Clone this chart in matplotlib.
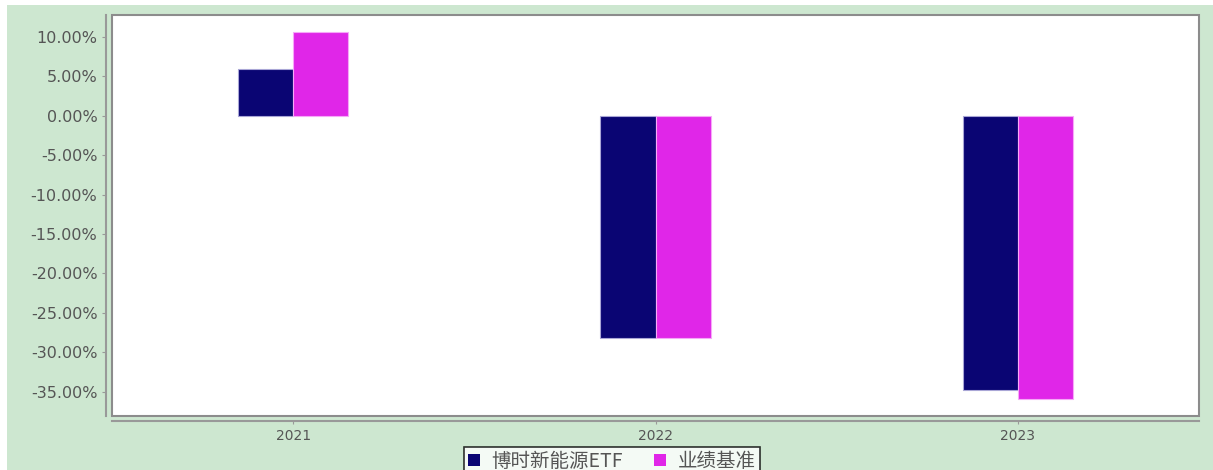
import matplotlib.pyplot as plt
import matplotlib.patches as mpatches
import numpy as np

plt.rcParams['font.family'] = ['DejaVu Sans', 'Noto Sans CJK SC']

# 数据
years = ['2021', '2022', '2023']
etf = [6.0, -28.2, -34.8]
benchmark = [10.6, -28.2, -35.9]
labels = ['博时新能源ETF', '业绩基准']
yticks = [10, 5, 0, -5, -10, -15, -20, -25, -30, -35]

W, H = 1213, 470
fig = plt.figure(figsize=(W / 100, H / 100), dpi=100)
fig.patch.set_facecolor('white')

# 绿色背景
bg = mpatches.Rectangle((7 / W, 0), 1 - 7 / W, 1 - 5 / H, transform=fig.transFigure,
                        facecolor='#CDE7D0', edgecolor='none', zorder=-10)
fig.patches.append(bg)

ax = fig.add_axes([112 / W, 1 - 416 / H, (1199 - 112) / W, (416 - 15) / H])
ax.set_facecolor('white')

x = np.arange(len(years))
w = 0.152
ax.bar(x - w / 2, etf, w, color='#0A0573', edgecolor='#A9A6D6', linewidth=0.8, label=labels[0])
ax.bar(x + w / 2, benchmark, w, color='#E026E8', edgecolor='#F6A8F8', linewidth=0.8, label=labels[1])

ax.set_xlim(-0.5, 2.5)
ax.set_ylim(-38.1, 12.8)
ax.set_xticks(x)
ax.set_xticklabels(years)
ax.set_yticks(yticks)
ax.set_yticklabels(['%.2f%%' % v for v in yticks])

# 坐标轴样式
for s in ['top', 'right']:
    ax.spines[s].set_visible(False)
ax.spines['left'].set_position(('outward', 4.5))
ax.spines['bottom'].set_position(('outward', 3.5))
ax.spines['left'].set_color('#999999')
ax.spines['bottom'].set_color('#999999')
ax.spines['left'].set_linewidth(1.5)
ax.spines['bottom'].set_linewidth(1.5)
ax.tick_params(axis='y', colors='#999999', labelcolor='#555555', labelsize=11.5, length=3, pad=3)
ax.tick_params(axis='x', colors='#999999', labelcolor='#555555', labelsize=10, length=2, pad=4)

# 绘图区边框
frame = mpatches.Rectangle((0, 0), 1, 1, transform=ax.transAxes, fill=False,
                           edgecolor='#8C8C8C', linewidth=1.5, clip_on=False, zorder=5)
ax.add_patch(frame)

handles = [mpatches.Patch(facecolor='#0A0573', edgecolor='none'),
           mpatches.Patch(facecolor='#E026E8', edgecolor='none')]
leg = fig.legend(handles, labels, loc='upper center', bbox_to_anchor=(612 / W, 1 - 447 / H),
                 ncol=2, frameon=True, fancybox=False, fontsize=14, handlelength=0.6,
                 handleheight=0.6, handletextpad=0.6, columnspacing=1.6, borderpad=0.2,
                 borderaxespad=0)
leg.get_frame().set_edgecolor('black')
leg.get_frame().set_linewidth(1.2)
leg.get_frame().set_facecolor('white')
for t in leg.get_texts():
    t.set_color('#555555')
    t.set_family(['Noto Sans CJK SC', 'DejaVu Sans'])

fig.savefig('out.png', dpi=100)
